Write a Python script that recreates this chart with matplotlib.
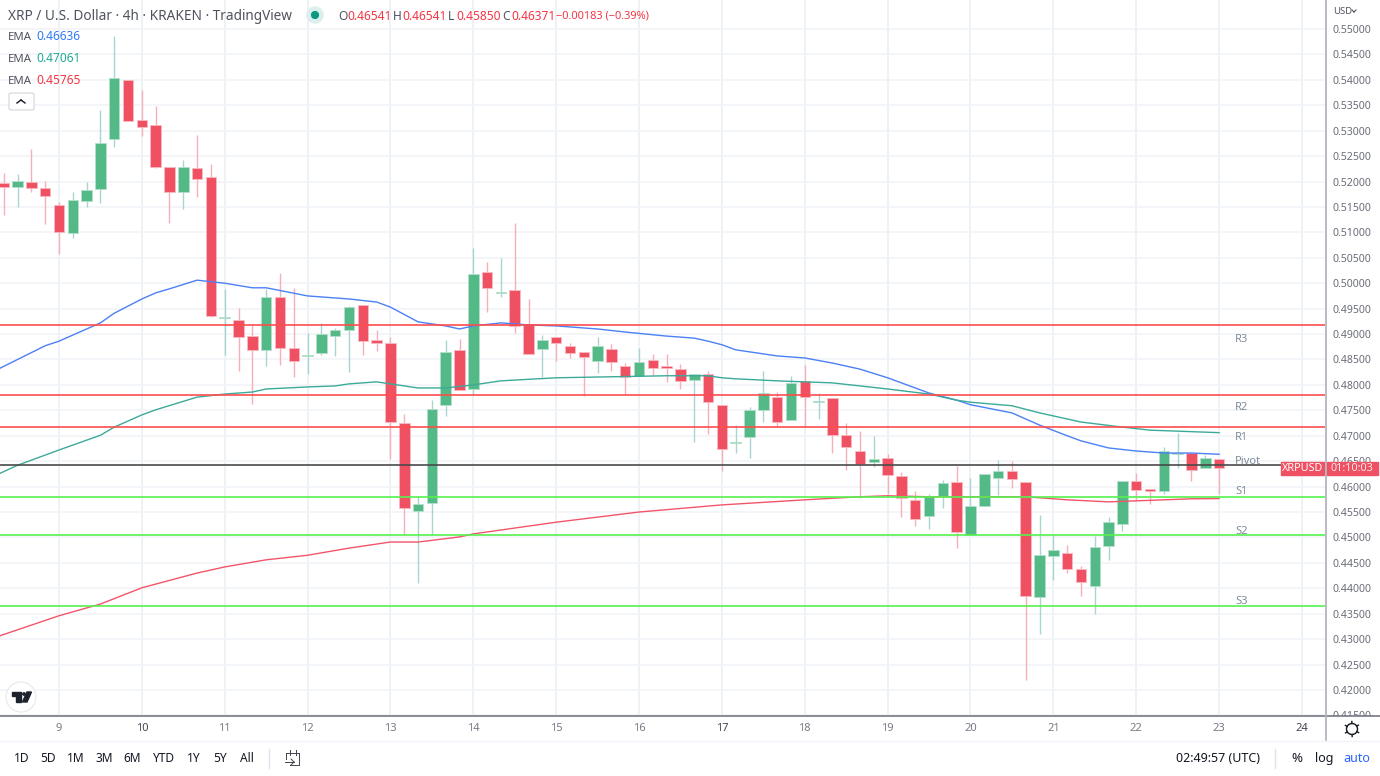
import numpy as np
import matplotlib
matplotlib.use('Agg')
import matplotlib.pyplot as plt
from matplotlib.lines import Line2D
from matplotlib.patches import Rectangle, Circle, Polygon, FancyBboxPatch
from matplotlib.transforms import IdentityTransform

W, H = 1380, 776
FONT = 'Noto Sans'

# bars run every 4h, 6 per day, index 4 is the 9th at 00:00
opens = [
    .5197, .5189, .5199, .5187, .5154, .5099, .5162, .5185, .5284, .5400,
    .5321, .5311, .5229, .5179, .5227, .5209, .4932, .4928, .4896, .4869,
    .4973, .4873, .4857, .4863, .4896, .4908, .4957, .4888, .4882, .4725,
    .4552, .4568, .4761, .4869, .4792, .5022, .4981, .4987, .4920, .4871,
    .4894, .4877, .4865, .4847, .4871, .4837, .4818, .4849, .4837, .4831,
    .4810, .4821, .4761, .4686, .4698, .4751, .4776, .4731, .4808, .4766,
    .4774, .4702, .4670, .4648, .4656, .4621, .4574, .4542, .4582, .4609,
    .4505, .4562, .4617, .4631, .4609, .4383, .4464, .4469, .4438, .4405,
    .4483, .4526, .4611, .4595, .4591, .4664, .4666, .4637, .46541]
highs = [
    .5217, .5215, .5264, .5201, .5160, .5179, .5199, .5341, .5486, .5400,
    .5380, .5349, .5229, .5242, .5292, .5234, .4989, .4951, .4920, .4989,
    .5020, .4991, .4902, .4922, .4912, .4955, .4957, .4908, .4894, .4743,
    .4582, .4770, .4888, .4890, .5069, .5042, .5050, .5118, .4969, .4898,
    .4894, .4882, .4865, .4894, .4880, .4843, .4873, .4861, .4861, .4841,
    .4821, .4827, .4761, .4721, .4757, .4827, .4786, .4818, .4839, .4784,
    .4774, .4725, .4709, .4700, .4664, .4629, .4591, .4585, .4613, .4641,
    .4617, .4625, .4652, .4650, .4609, .4544, .4505, .4485, .4444, .4503,
    .4540, .4611, .4627, .4595, .4678, .4705, .4666, .4662, .46541]
lows = [
    .5134, .5150, .5179, .5116, .5057, .5089, .5150, .5158, .5268, .5319,
    .5290, .5227, .5118, .5146, .5170, .4934, .4859, .4827, .4762, .4837,
    .4839, .4816, .4821, .4859, .4857, .4825, .4859, .4867, .4654, .4505,
    .4410, .4505, .4739, .4790, .4780, .4943, .4973, .4902, .4861, .4816,
    .4847, .4853, .4778, .4823, .4827, .4780, .4818, .4819, .4806, .4792,
    .4688, .4703, .4631, .4666, .4656, .4727, .4717, .4731, .4717, .4733,
    .4666, .4633, .4578, .4639, .4585, .4540, .4523, .4517, .4558, .4479,
    .4505, .4562, .4583, .4597, .4220, .4310, .4416, .4430, .4385, .4349,
    .4456, .4513, .4574, .4566, .4585, .4637, .4611, .4637, .45850]
closes = [
    .5189, .5201, .5187, .5172, .5101, .5164, .5183, .5276, .5404, .5319,
    .5307, .5229, .5179, .5229, .5205, .4936, .4934, .4894, .4869, .4973,
    .4873, .4847, .4859, .4900, .4908, .4953, .4886, .4882, .4727, .4558,
    .4566, .4753, .4865, .4790, .5018, .4991, .4983, .4916, .4861, .4888,
    .4882, .4863, .4855, .4877, .4845, .4816, .4845, .4833, .4833, .4808,
    .4821, .4766, .4674, .4688, .4751, .4784, .4727, .4804, .4776, .4768,
    .4702, .4678, .4644, .4654, .4623, .4578, .4536, .4582, .4607, .4511,
    .4562, .4625, .4631, .4615, .4385, .4466, .4475, .4438, .4412, .4481,
    .4530, .4611, .4593, .4591, .4670, .4666, .4633, .4656, .46371]

blue_idx = [-1, 3, 4, 7, 8, 10, 11, 12, 14, 16, 18, 19, 22, 25, 27, 28, 30,
            32, 33, 34, 36, 38, 40, 43, 45, 48, 50, 51, 52, 53, 54, 56, 58,
            60, 62, 64, 65, 67, 69, 70, 73, 75, 77, 78, 80, 82, 84, 86, 88]
blue_ema = [.4823, .4877, .4886, .4922, .4941, .4969, .4981, .4989, .5006,
            .5000, .4991, .4991, .4975, .4969, .4963, .4953, .4924, .4916,
            .4910, .4916, .4922, .4918, .4916, .4910, .4904, .4896, .4892,
            .4886, .4879, .4869, .4865, .4857, .4853, .4843, .4831, .4814,
            .4804, .4784, .4770, .4761, .4745, .4721, .4700, .4690, .4676,
            .4670, .4666, .4666, .46636]
green_idx = [-1, 1, 4, 7, 8, 10, 11, 14, 16, 18, 19, 22, 24, 25, 27, 28, 30,
             32, 34, 36, 40, 44, 48, 51, 52, 53, 56, 60, 64, 67, 69, 70, 73,
             75, 78, 81, 83, 88]
green_ema = [.4617, .4642, .4672, .4701, .4717, .4741, .4751, .4776, .4782,
             .4786, .4792, .4796, .4798, .4802, .4806, .4802, .4794, .4794,
             .4800, .4808, .4814, .4816, .4818, .4818, .4814, .4812, .4808,
             .4804, .4792, .4782, .4770, .4766, .4759, .4745, .4727, .4717,
             .4711, .47061]
red_idx = [-1, 4, 7, 10, 14, 16, 19, 22, 25, 28, 30, 33, 34, 40, 46, 52, 58,
           62, 64, 67, 71, 74, 77, 80, 82, 86, 88]
red_ema = [.4300, .4346, .4369, .4401, .4430, .4442, .4456, .4465, .4479,
           .4491, .4491, .4501, .4507, .4530, .4550, .4564, .4574, .4580,
           .4582, .4580, .4580, .4580, .4574, .4570, .4572, .4576, .45765]

red_levels = [.4918, .4780, .4718]
green_levels = [.4580, .4505, .4365]
pivot_level = .4643

level_names = ['R3', 'R2', 'R1', 'Pivot', 'S1', 'S2', 'S3']
level_name_y = [338, 406, 437, 461, 491, 531, 601]

day_labels = list(range(9, 25))
price_ticks = [round(.415 + .005 * i, 3) for i in range(28)]
range_buttons = ['1D', '5D', '1M', '3M', '6M', 'YTD', '1Y', '5Y', 'All']
range_button_x = [22, 48, 76, 104, 132, 164, 194, 220, 247]

RED = '#EF5062'
GREEN = '#53B987'
TEXT = '#50535E'
RED_TXT = '#F23645'

plt.rcParams['font.family'] = [FONT, 'DejaVu Sans']
fig = plt.figure(figsize=(W / 100, H / 100), dpi=100)


def px(x, y):
    return x / W, 1 - y / H


def ptext(x, y, s, size=8, color=TEXT, ha='left', **kw):
    fig.text(*px(x, y + 1), s, fontsize=size, color=color, ha=ha, va='center', **kw)


def pline(x0, y0, x1, y1, color, lw=1.0):
    a, b = px(x0, y0), px(x1, y1)
    fig.add_artist(Line2D([a[0], b[0]], [a[1], b[1]], color=color, lw=lw,
                          zorder=7))


def ppoly(points, **kw):
    pts = [px(x, y) for x, y in points]
    fig.add_artist(Polygon(pts, closed=True, transform=fig.transFigure,
                           zorder=7, **kw))


def pcircle(x, y, r, **kw):
    # pixel transform so the circle stays round
    fig.add_artist(Circle((x, H - y), r, transform=IdentityTransform(),
                          zorder=6, **kw))


ax = fig.add_axes([0, 1 - 716 / H, 1325 / W, 716 / H])
ax.set_xlim(-0.272, 95.67)
ax.set_ylim(.5557 - .00019667 * 716, .5557)

idx = np.arange(len(opens))
o, h, l, c = map(np.array, (opens, highs, lows, closes))
up = c >= o

ax.set_xticks(4 + 6 * np.arange(len(day_labels)))
ax.set_xticklabels(day_labels)
ax.set_yticks(price_ticks)
ax.set_yticklabels([f'{p:.5f}' for p in price_ticks])
ax.yaxis.tick_right()
ax.tick_params(axis='x', length=0, pad=5, labelsize=8, labelcolor='#787B86')
ax.tick_params(axis='y', length=0, pad=5.5, labelsize=7.6, labelcolor='#6A6D78')
for lab, day in zip(ax.get_xticklabels(), day_labels):
    if day in (10, 17, 24):
        lab.set_color('#434651')
for side in ax.spines.values():
    side.set_visible(False)
ax.grid(axis='y', color='#F0F3F6', lw=1.1)
ax.grid(axis='x', color='#E8F0F3', lw=1.1)
ax.set_axisbelow(True)

ax.vlines(idx[up], l[up], h[up], color='#A9D4D2', lw=1, zorder=2)
ax.vlines(idx[~up], l[~up], h[~up], color='#F7B0BA', lw=1, zorder=2)
ax.bar(idx[up], (c - o)[up], bottom=o[up], width=0.76, color=GREEN,
       edgecolor='#B5E0CB', lw=0.6, zorder=3)
ax.bar(idx[~up], (c - o)[~up], bottom=o[~up], width=0.76, color=RED,
       edgecolor='#F9BAC2', lw=0.6, zorder=3)

ax.plot(blue_idx, blue_ema, color='#4C80F5', lw=1, zorder=4)
ax.plot(green_idx, green_ema, color='#3BAA98', lw=1, zorder=4)
ax.plot(red_idx, red_ema, color='#F2556A', lw=1, zorder=4)

for lv in red_levels:
    ax.axhline(lv, color='#FF4D4D', lw=1.2, zorder=5)
for lv in green_levels:
    ax.axhline(lv, color='#55F24F', lw=1.2, zorder=5)
ax.axhline(pivot_level, color='#4A4A4A', lw=1.2, zorder=5)

for name, y in zip(level_names, level_name_y):
    ptext(1235, y, name, size=8, color='#7F8C9A')

# header and legend
ptext(8, 15, 'XRP / U.S. Dollar · 4h · KRAKEN · TradingView', size=9.8)
pcircle(315, 15, 8, color='#DCEFEC')
ppoly([(315 + 3.4 * np.cos(t), 15 + 3.4 * np.sin(t))
       for t in np.linspace(0, 2 * np.pi, 24)], color='#089981')
for lab, lab_x, val, val_x in [('O', 338, '0.46541', 347), ('H', 393, '0.46541', 402),
                               ('L', 448, '0.45850', 456), ('C', 502, '0.46371', 511)]:
    ptext(lab_x, 15, lab, size=8.6)
    ptext(val_x, 15, val, size=8.6, color=RED_TXT)
ptext(556, 15, '−0.00183 (−0.39%)', size=7.9, color=RED_TXT)
ema_rows = [(36, '0.46636', '#3179F5'), (58, '0.47061', '#22AB94'), (80, '0.45765', RED_TXT)]
for y, val, col in ema_rows:
    ptext(8, y, 'EMA', size=8.2)
    ptext(36, y, val, size=8.6, color=col)
fig.add_artist(FancyBboxPatch(px(9, 110), 25 / W, 17 / H,
                              boxstyle='round,pad=0,rounding_size=0.002',
                              transform=fig.transFigure, facecolor='white',
                              edgecolor='#D1D4DC', lw=0.8, zorder=6))
pline(17, 103, 21, 100, '#131722', 1)
pline(21, 100, 25, 103, '#131722', 1)

# logo
pcircle(21, 697, 15, facecolor='white', edgecolor='#E6E8EC', lw=0.8)
ppoly([(12, 692), (21, 692), (21, 702), (16, 702), (16, 696), (12, 696)], color='#1E222D')
pcircle(24, 694, 1.9, color='#1E222D', lw=0)
ppoly([(27, 692), (31.5, 692), (27, 702), (22.5, 702)], color='#1E222D')

# axis frame and price tag
fig.add_artist(Rectangle(px(1326, 741), 54 / W, 25 / H, facecolor='white',
                         transform=fig.transFigure, zorder=4))
pline(0, 716, W, 716, '#6A6D78', 1.1)
pline(1325.5, 0, 1325.5, 741, '#B2B5BE', 1.3)
pline(0, 741, W, 741, '#F0F3FA', 1)
fig.add_artist(Rectangle(px(1281, 475), 43 / W, 13 / H, color=RED,
                         transform=fig.transFigure, zorder=6))
fig.add_artist(Rectangle(px(1326, 475), 52 / W, 13 / H, color=RED,
                         transform=fig.transFigure, zorder=6))
ptext(1302.5, 467.5, 'XRPUSD', size=7.8, color='white', ha='center', zorder=7)
ptext(1352, 467.5, '01:10:03', size=7.8, color='#FFE8EA', ha='center', zorder=7)
ptext(1333, 10, 'USD', size=6.8, color='#50535E')
pline(1352, 10, 1354, 12, TEXT, 0.8)
pline(1354, 12, 1356, 10, TEXT, 0.8)

# gear
for t in np.arange(0, 2 * np.pi, np.pi / 3):
    pline(1352 + 5.5 * np.cos(t + .5), 729 + 5.5 * np.sin(t + .5),
          1352 + 7.5 * np.cos(t + .5), 729 + 7.5 * np.sin(t + .5), '#131722', 1)
pcircle(1352, 729, 5.5, facecolor='white', edgecolor='#131722', lw=1)

# bottom toolbar
for name, x in zip(range_buttons, range_button_x):
    ptext(x, 757.5, name, size=8.6, color='#131722', ha='center')
pline(269, 749, 269, 768, '#E0E3EB', 1)
ptext(1260, 757.5, '02:49:57 (UTC)', size=9, color='#131722', ha='right')
pline(1275, 749, 1275, 768, '#E0E3EB', 1)
ptext(1297, 757.5, '%', size=9.5, color='#131722', ha='center')
ptext(1324, 757.5, 'log', size=9, color='#131722', ha='center')
ptext(1357, 757.5, 'auto', size=9, color='#2962FF', ha='center')

# calendar icon
for seg in [(286, 753, 299, 753), (299, 753, 299, 765), (299, 765, 290, 765),
            (286, 753, 286, 759), (290, 750, 290, 755), (296, 750, 296, 755),
            (285, 762, 294, 762), (291, 759, 294, 762), (291, 765, 294, 762)]:
    pline(*seg, '#434651', 0.7)

fig.savefig('out.png', dpi=100)
